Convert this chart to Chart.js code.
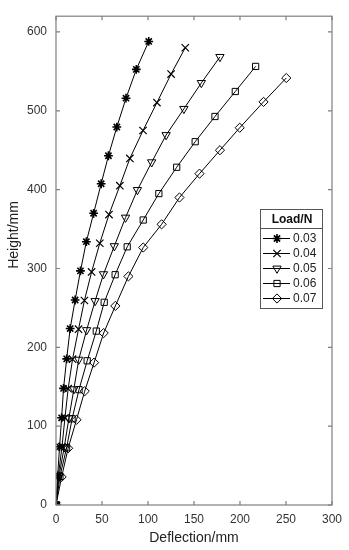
<!DOCTYPE html>
<html>
<head>
<meta charset="utf-8">
<script src="https://cdn.jsdelivr.net/npm/chart.js@4"></script>
<style>
  html, body { margin: 0; padding: 0; background: #fff; }
  #wrap { width: 349px; height: 550px; }
</style>
</head>
<body>
<div id="wrap"><canvas id="chart" width="349" height="550"></canvas></div>
<script>
// Load/N values, one series each
var loads = ['0.03', '0.04', '0.05', '0.06', '0.07'];

// deflection (mm) and height (mm)
var defl003 = [0, 1.8, 3.9, 6.1, 8.2, 11.6, 15.4, 20.8, 26.6, 33.0, 40.9, 49.1, 57.0, 66.1, 76.1, 87.3, 100.8];
var height003 = [0, 37.0, 73.8, 110.6, 147.9, 185.4, 223.8, 260.0, 297.0, 334.0, 370.0, 407.5, 443.0, 479.4, 516.0, 552.5, 588.0];

var defl004 = [0, 2.5, 6.5, 9.7, 13.2, 18.0, 24.5, 30.9, 38.7, 47.6, 57.6, 69.4, 80.3, 94.6, 109.7, 125.1, 140.5];
var height004 = [0, 36.9, 73.8, 110.4, 147.5, 185.0, 223.0, 259.4, 295.6, 332.0, 368.4, 405.0, 439.6, 475.0, 510.4, 546.6, 580.0];

var defl005 = [0, 3.2, 8.9, 14.0, 19.4, 24.7, 33.3, 42.5, 51.6, 63.4, 75.6, 88.5, 104.0, 119.7, 139.0, 158.0, 178.2];
var height005 = [0, 36.3, 73.1, 110.0, 146.9, 184.4, 221.9, 258.8, 292.8, 328.4, 364.6, 399.6, 434.8, 469.3, 502.5, 535.4, 568.4];

var defl006 = [0, 4.3, 11.5, 17.5, 25.0, 33.9, 43.8, 52.4, 64.3, 77.4, 94.8, 111.8, 131.2, 151.3, 172.8, 194.9, 217.0];
var height006 = [0, 36.3, 72.5, 109.4, 146.3, 182.9, 220.6, 257.1, 292.1, 327.5, 361.5, 395.0, 428.4, 460.8, 492.8, 524.5, 556.3];

var defl007 = [0, 6.1, 13.2, 22.3, 31.2, 41.4, 51.8, 64.5, 78.7, 94.8, 114.8, 134.2, 156.0, 178.2, 199.7, 225.6, 250.3];
var height007 = [0, 35.6, 72.0, 108.1, 144.4, 180.6, 218.1, 252.5, 290.0, 326.6, 356.0, 390.0, 420.3, 450.0, 478.5, 511.3, 541.6];

var xTicks = [0, 50, 100, 150, 200, 250, 300];
var yTicks = [0, 100, 200, 300, 400, 500, 600];

var FONT = '"Liberation Sans", Arial, sans-serif';
Chart.defaults.font.family = FONT;

function pts(xs, ys) {
  return xs.map(function (x, i) { return { x: x, y: ys[i] }; });
}

var markers = [
  { style: 'star', rot: 0, r: 4.4, w: 1.6 },
  { style: 'crossRot', rot: 0, r: 5.2, w: 1.2 },
  { style: 'triangle', rot: 180, r: 4.8, w: 1 },
  { style: 'rect', rot: 0, r: 4.4, w: 1 },
  { style: 'rectRot', rot: 0, r: 4.6, w: 1 }
];
var series = [
  pts(defl003, height003),
  pts(defl004, height004),
  pts(defl005, height005),
  pts(defl006, height006),
  pts(defl007, height007)
];

var datasets = series.map(function (d, i) {
  return {
    label: loads[i],
    data: d,
    showLine: true,
    borderColor: '#000',
    borderWidth: 1,
    pointStyle: markers[i].style,
    pointRotation: markers[i].rot,
    pointRadius: markers[i].r,
    pointBorderColor: '#000',
    pointBackgroundColor: 'rgba(0,0,0,0)',
    pointBorderWidth: markers[i].w
  };
});

// frame with inward ticks, y title and legend box
var framePlugin = {
  id: 'frame',
  afterDraw: function (chart) {
    var ctx = chart.ctx, a = chart.chartArea;
    var xs = chart.scales.x, ys = chart.scales.y;
    ctx.save();
    ctx.strokeStyle = '#7f7f7f';
    ctx.lineWidth = 1.2;
    ctx.strokeRect(a.left, a.top, a.right - a.left, a.bottom - a.top);
    ctx.beginPath();
    xTicks.forEach(function (v) {
      var px = xs.getPixelForValue(v);
      ctx.moveTo(px, a.bottom); ctx.lineTo(px, a.bottom - 4);
      ctx.moveTo(px, a.top); ctx.lineTo(px, a.top + 4);
    });
    yTicks.forEach(function (v) {
      var py = ys.getPixelForValue(v);
      ctx.moveTo(a.left, py); ctx.lineTo(a.left + 4, py);
      ctx.moveTo(a.right, py); ctx.lineTo(a.right - 4, py);
    });
    ctx.stroke();

    // y axis title
    ctx.fillStyle = '#222';
    ctx.font = '14px ' + FONT;
    ctx.textAlign = 'center';
    ctx.textBaseline = 'middle';
    ctx.translate(14, 235);
    ctx.rotate(-Math.PI / 2);
    ctx.fillText('Height/mm', 0, 0);
    ctx.restore();

    // legend
    ctx.save();
    var bx = 260.5, by = 209.5, bw = 62, bh = 99;
    ctx.fillStyle = '#fff';
    ctx.fillRect(bx, by, bw, bh);
    ctx.strokeStyle = '#555';
    ctx.lineWidth = 1;
    ctx.strokeRect(bx, by, bw, bh);
    ctx.beginPath();
    ctx.moveTo(bx, 228.5); ctx.lineTo(bx + bw, 228.5);
    ctx.stroke();
    ctx.fillStyle = '#111';
    ctx.font = 'bold 12px ' + FONT;
    ctx.textAlign = 'center';
    ctx.textBaseline = 'middle';
    ctx.fillText('Load/N', 292, 220);
    ctx.font = '12px ' + FONT;
    ctx.textAlign = 'left';
    loads.forEach(function (lab, i) {
      var y = 238.5 + 15 * i;
      ctx.strokeStyle = '#000';
      ctx.lineWidth = 1;
      ctx.beginPath();
      ctx.moveTo(263, y); ctx.lineTo(290, y);
      ctx.stroke();
      var ds = datasets[i];
      ctx.lineWidth = ds.pointBorderWidth;
      ctx.strokeStyle = '#000';
      ctx.fillStyle = 'rgba(0,0,0,0)';
      Chart.helpers.drawPoint(ctx, {
        pointStyle: ds.pointStyle,
        rotation: ds.pointRotation,
        radius: ds.pointRadius,
        borderWidth: ds.pointBorderWidth
      }, 277, y);
      ctx.fillStyle = '#222';
      ctx.fillText(lab, 293, y + 0.5);
    });
    ctx.restore();
  }
};

new Chart(document.getElementById('chart'), {
  type: 'scatter',
  data: { datasets: datasets },
  options: {
    responsive: false,
    animation: false,
    layout: { padding: { top: 12, right: 15, left: 0, bottom: 0 } },
    plugins: {
      legend: { display: false },
      tooltip: { enabled: false }
    },
    scales: {
      x: {
        type: 'linear',
        min: 0,
        max: 300,
        grid: { display: false, drawTicks: false },
        border: { display: false },
        ticks: { stepSize: 50, color: '#333', font: { size: 12 }, padding: 7, maxRotation: 0 },
        title: { display: true, text: 'Deflection/mm', color: '#222', font: { size: 14 }, padding: { top: 0, bottom: 3 } },
        afterFit: function (s) { s.height = 45; }
      },
      y: {
        type: 'linear',
        min: 0,
        max: 620,
        grid: { display: false, drawTicks: false },
        border: { display: false },
        ticks: { stepSize: 100, color: '#333', font: { size: 12 }, padding: 9 },
        afterBuildTicks: function (s) {
          s.ticks = s.ticks.filter(function (t) { return yTicks.indexOf(t.value) >= 0; });
        },
        afterFit: function (s) { s.width = 56; }
      }
    }
  },
  plugins: [framePlugin]
});
</script>
</body>
</html>
